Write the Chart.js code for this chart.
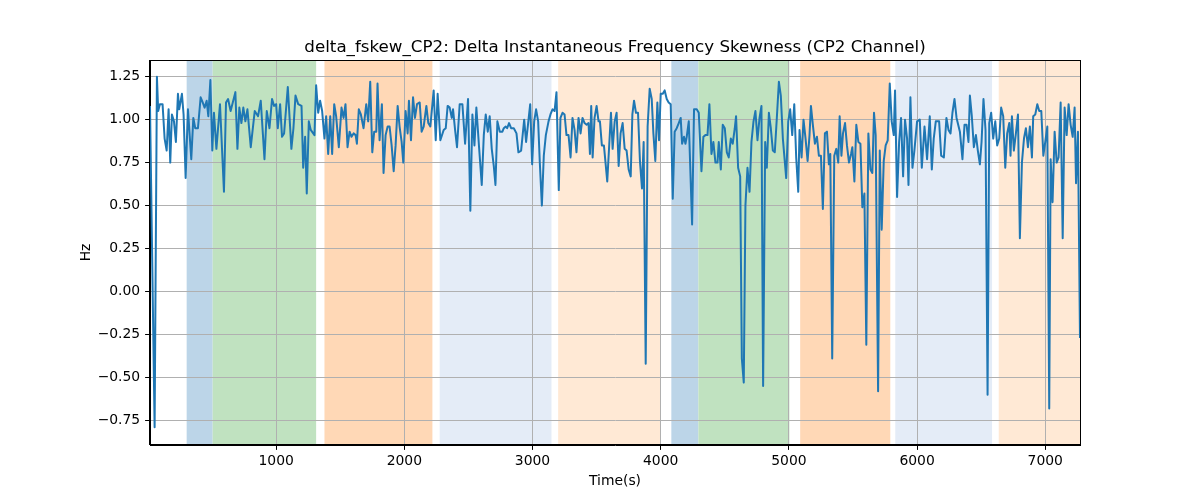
<!DOCTYPE html>
<html>
<head>
<meta charset="utf-8">
<script src="https://cdn.jsdelivr.net/npm/chart.js@4.4.0/dist/chart.umd.min.js"></script>
<style>
  html, body { margin: 0; padding: 0; background: #fff; }
</style>
</head>
<body>
<canvas id="myChart" width="1200" height="500"></canvas>
<script>
const chartTitle = 'delta_fskew_CP2: Delta Instantaneous Frequency Skewness (CP2 Channel)';

// time (s) of each sample
const times = [
  16,52,70,80,93,104,114,130,146,161,
  174,187,203,218,234,244,265,278,294,312,
  338,354,369,390,411,427,442,458,471,487,
  502,515,534,562,593,609,625,645,682,698,
  713,729,744,760,776,802,833,859,880,909,
  927,948,968,984,1000,1013,1031,1046,1062,1091,
  1119,1135,1151,1172,1198,1211,1226,1239,1255,1270,
  1299,1312,1328,1343,1359,1377,1390,1406,1422,1437,
  1453,1468,1489,1510,1526,1541,1557,1573,1588,1604,
  1620,1630,1645,1661,1682,1703,1718,1734,1750,1765,
  1781,1791,1807,1825,1838,1854,1870,1885,1901,1917,
  1932,1948,1963,1979,1992,2010,2026,2036,2052,2068,
  2083,2099,2120,2135,2151,2172,2187,2203,2229,2245,
  2260,2281,2307,2323,2338,2354,2370,2380,2396,2411,
  2432,2453,2474,2497,2515,2531,2547,2562,2583,2604,
  2620,2635,2651,2666,2682,2698,2711,2726,2745,2765,
  2776,2791,2802,2817,2833,2854,2875,2890,2911,2935,
  2950,2966,2982,2997,3013,3028,3044,3057,3073,3088,
  3104,3125,3140,3156,3172,3187,3205,3218,3234,3250,
  3265,3281,3297,3312,3328,3343,3359,3375,3390,3406,
  3422,3437,3448,3458,3469,3484,3500,3515,3526,3541,
  3557,3567,3583,3612,3625,3641,3656,3672,3687,3703,
  3719,3734,3750,3766,3779,3792,3807,3823,3838,3854,
  3867,3883,3898,3914,3930,3943,3958,3974,3987,4000,
  4016,4031,4047,4062,4078,4094,4109,4125,4141,4156,
  4167,4182,4193,4203,4219,4245,4260,4281,4297,4318,
  4333,4349,4365,4380,4396,4411,4427,4443,4453,4469,
  4484,4500,4516,4531,4547,4562,4578,4588,4604,4620,
  4633,4648,4661,4677,4693,4708,4724,4739,4755,4771,
  4786,4799,4815,4828,4844,4859,4875,4890,4906,4922,
  4937,4953,4979,4995,5010,5026,5042,5057,5073,5083,
  5099,5114,5130,5146,5161,5172,5187,5203,5219,5234,
  5250,5265,5281,5297,5312,5323,5338,5354,5370,5385,
  5396,5410,5422,5438,5453,5469,5485,5495,5511,5526,
  5542,5558,5573,5589,5604,5620,5636,5651,5664,5677,
  5696,5709,5724,5740,5755,5771,5787,5802,5818,5828,
  5844,5860,5875,5891,5906,5922,5933,5948,5964,5979,
  6000,6021,6037,6058,6078,6099,6115,6130,6146,6172,
  6188,6209,6229,6245,6261,6276,6292,6308,6334,6354,
  6370,6386,6401,6412,6427,6443,6459,6474,6490,6503,
  6518,6534,6550,6563,6578,6594,6610,6625,6641,6656,
  6672,6688,6703,6719,6729,6740,6755,6771,6787,6802,
  6818,6834,6849,6865,6880,6896,6906,6922,6938,6953,
  6969,6985,7000,7016,7031,7042,7057,7073,7089,7104,
  7120,7136,7151,7167,7182,7198,7214,7229,7240,7255,
  7271
];

// delta fskew (Hz)
const values = [
  1.08,-0.79,1.25,1.05,1.09,1.09,1.09,0.89,0.82,1.06,
  0.75,1.03,0.99,0.87,1.15,1.06,1.15,1.03,0.66,1.06,
  0.77,1.01,0.95,0.95,1.13,1.10,1.07,1.11,1.02,1.23,
  0.82,1.04,0.83,1.09,0.58,1.10,1.12,1.05,1.16,0.83,
  1.07,0.98,1.07,0.99,1.06,0.84,1.05,1.02,1.11,0.77,
  1.05,0.95,1.12,1.08,1.09,0.95,1.09,0.90,0.92,1.19,
  0.83,0.95,1.14,1.09,1.08,0.72,0.90,0.57,0.99,0.94,
  0.91,1.20,1.04,1.11,1.05,0.89,1.02,0.80,1.02,0.80,
  1.09,1.02,0.84,1.07,1.01,1.09,0.84,0.93,0.90,0.92,
  0.91,0.86,1.06,1.03,0.95,1.09,0.99,1.22,0.81,0.93,
  0.93,1.21,0.88,1.09,0.69,0.91,0.96,0.96,0.85,0.70,
  0.85,1.08,0.96,0.87,0.75,1.05,0.92,1.11,0.88,1.13,
  1.01,1.09,1.10,0.93,0.96,1.08,0.98,0.96,1.17,0.88,
  1.15,0.88,0.94,0.95,1.08,1.07,1.01,1.06,0.94,0.84,
  1.09,1.09,0.86,1.12,0.47,1.03,0.85,1.07,0.84,0.62,
  0.91,1.03,0.93,1.02,0.83,0.73,0.62,0.99,0.93,0.93,
  0.95,0.96,0.95,0.98,0.95,0.95,0.92,0.81,0.82,1.00,
  0.87,0.98,1.09,0.74,0.99,1.06,0.99,0.75,0.50,0.79,
  0.91,0.99,1.03,1.06,1.05,1.16,0.59,1.01,1.04,1.03,
  0.91,0.91,0.78,1.01,0.94,0.81,1.01,0.92,1.01,0.98,
  0.97,0.98,0.80,1.08,0.78,1.01,1.08,0.99,0.99,0.85,
  0.85,0.77,0.64,1.04,0.83,0.99,1.04,0.73,0.92,0.98,
  0.83,0.82,0.71,0.67,1.03,1.11,1.04,1.04,0.76,0.60,
  0.87,-0.42,0.96,1.18,1.12,0.92,0.76,1.10,0.88,1.15,
  1.15,1.17,1.12,1.10,1.09,0.54,0.93,0.95,0.98,1.01,
  0.86,0.90,0.86,0.90,0.99,0.39,1.06,1.06,1.04,0.70,
  0.90,0.91,0.91,1.09,0.80,0.87,0.75,0.75,0.87,0.71,
  0.97,0.95,0.81,0.78,0.89,0.86,0.95,1.02,0.72,0.67,
  -0.39,-0.53,0.50,0.72,0.58,0.87,0.99,1.05,0.88,1.01,
  1.08,-0.55,0.87,0.72,1.04,0.95,0.82,0.81,1.01,1.22,
  1.14,0.89,0.66,0.99,1.06,0.91,1.09,0.78,0.58,0.94,
  0.78,1.00,0.89,0.76,0.91,1.08,0.97,0.86,0.90,0.79,
  0.79,0.48,0.92,0.93,0.74,0.80,-0.39,0.79,0.83,0.75,
  1.02,0.79,0.92,0.98,0.85,0.75,0.80,0.84,0.64,0.97,
  0.87,0.86,0.49,0.57,-0.31,0.92,0.71,0.69,1.04,0.91,
  -0.58,0.82,0.36,0.76,0.85,0.88,1.21,0.99,0.91,1.17,
  0.55,0.87,1.01,0.67,1.00,0.89,0.62,1.13,0.72,0.82,
  0.99,1.00,0.72,0.96,0.77,1.02,0.71,0.89,0.99,0.99,
  0.79,0.78,1.01,0.94,0.92,1.04,1.12,1.01,0.93,0.77,
  0.97,0.97,0.87,1.14,1.02,0.84,0.91,0.82,0.74,0.87,
  1.12,0.94,-0.60,0.98,1.04,0.89,0.99,0.85,0.89,1.07,
  1.02,0.72,0.92,0.98,0.79,1.02,0.82,0.92,1.03,0.31,
  0.75,0.89,0.95,0.84,0.96,0.78,1.02,1.03,1.09,1.05,
  1.05,0.79,0.87,0.96,-0.68,0.77,0.52,0.93,0.75,0.78,
  1.10,0.31,1.07,0.91,1.09,0.97,0.90,1.07,0.63,0.93,
  -0.27
];

// shaded segments
const spanStart = [302, 505, 1377, 2276, 3200, 4083, 4294, 5088, 5830, 6637];
const spanEnd   = [505, 1312, 2219, 3148, 3995, 4294, 5004, 5791, 6585, 7271];
const spanKind  = ['blue','green','orange','lightblue','lightorange','blue','green','orange','lightblue','lightorange'];

const xTicks = [1000, 2000, 3000, 4000, 5000, 6000, 7000];
const yTicks = [-0.75, -0.5, -0.25, 0, 0.25, 0.5, 0.75, 1, 1.25];
const yMin = -0.893;
const yMax = 1.347;

const spanColors = {
    blue: 'rgb(188,213,232)',
    green: 'rgb(192,226,192)',
    orange: 'rgb(255,216,182)',
    lightblue: 'rgb(228,236,247)',
    lightorange: 'rgb(255,233,213)'
};

const tickFont = { family: 'DejaVu Sans', size: 13.9 };

const spansPlugin = {
    id: 'spans',
    beforeDraw(chart) {
        const ctx = chart.ctx;
        const area = chart.chartArea;
        const x = chart.scales.x;
        ctx.save();
        for (let i = 0; i < spanStart.length; i++) {
            const x0 = x.getPixelForValue(spanStart[i]);
            const x1 = x.getPixelForValue(spanEnd[i]);
            ctx.fillStyle = spanColors[spanKind[i]];
            ctx.fillRect(x0, area.top, x1 - x0, area.bottom - area.top);
        }
        ctx.restore();
    }
};

const frameTitlePlugin = {
    id: 'frameTitle',
    afterDraw(chart) {
        const ctx = chart.ctx;
        const a = chart.chartArea;
        ctx.save();
        ctx.strokeStyle = '#000';
        ctx.lineWidth = 1;
        ctx.strokeRect(Math.round(a.left) - 0.5, Math.round(a.top) + 0.5,
            Math.round(a.right - a.left) + 1, Math.round(a.bottom - a.top) - 1);
        ctx.fillStyle = '#000';
        ctx.font = '16.7px "DejaVu Sans"';
        ctx.textAlign = 'center';
        ctx.textBaseline = 'alphabetic';
        ctx.fillText(chartTitle, (a.left + a.right) / 2, a.top - 8);
        ctx.restore();
    }
};

const points = times.map((t, i) => ({ x: t, y: values[i] }));

new Chart(document.getElementById('myChart'), {
    type: 'line',
    data: {
        datasets: [{
            data: points,
            borderColor: '#1f77b4',
            borderWidth: 2,
            borderJoinStyle: 'round',
            pointRadius: 0,
            tension: 0,
            fill: false
        }]
    },
    options: {
        responsive: false,
        animation: false,
        devicePixelRatio: 1,
        layout: { padding: { top: 60, right: 120, left: 0, bottom: 0 } },
        plugins: {
            legend: { display: false },
            title: { display: false },
            tooltip: { enabled: false }
        },
        scales: {
            x: {
                type: 'linear',
                min: times[0],
                max: times[times.length - 1],
                afterBuildTicks: s => { s.ticks = xTicks.map(v => ({ value: v })); },
                afterFit: s => { s.height = 55; },
                grid: { color: '#b0b0b0', lineWidth: 1, tickColor: '#000', tickLength: 4.9 },
                border: { color: '#000', width: 1 },
                ticks: {
                    padding: 3,
                    color: '#000',
                    font: tickFont,
                    maxRotation: 0,
                    autoSkip: false,
                    callback: v => String(v)
                },
                title: {
                    display: true,
                    text: 'Time(s)',
                    color: '#000',
                    font: tickFont,
                    padding: { top: 0, bottom: 10.6 }
                }
            },
            y: {
                min: yMin,
                max: yMax,
                afterBuildTicks: s => { s.ticks = yTicks.map(v => ({ value: v })); },
                afterFit: s => { s.width = 150; },
                grid: { color: '#b0b0b0', lineWidth: 1, tickColor: '#000', tickLength: 4.9 },
                border: { color: '#000', width: 1 },
                ticks: {
                    padding: 4.9,
                    color: '#000',
                    font: tickFont,
                    autoSkip: false,
                    callback: v => v.toFixed(2).replace('-', '\u2212')
                },
                title: {
                    display: true,
                    text: 'Hz',
                    color: '#000',
                    font: tickFont,
                    padding: { top: 77.6, bottom: 0 }
                }
            }
        }
    },
    plugins: [spansPlugin, frameTitlePlugin]
});
</script>
</body>
</html>
